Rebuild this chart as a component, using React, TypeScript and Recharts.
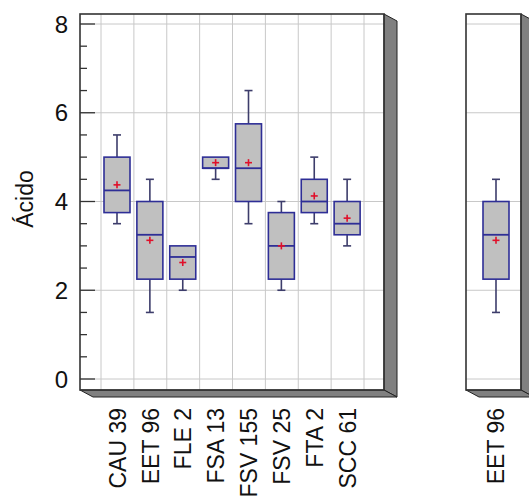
import React from 'react';
import { ComposedChart, Bar, XAxis, YAxis, CartesianGrid } from 'recharts';

const categories = ['CAU 39', 'EET 96', 'FLE 2', 'FSA 13', 'FSV 155', 'FSV 25', 'FTA 2', 'SCC 61'];
const whiskerLow = [3.5, 1.5, 2.0, 4.5, 3.5, 2.0, 3.5, 3.0];
const quartile1 = [3.75, 2.25, 2.25, 4.75, 4.0, 2.25, 3.75, 3.25];
const medians = [4.25, 3.25, 2.75, 4.75, 4.75, 3.0, 4.0, 3.5];
const quartile3 = [5.0, 4.0, 3.0, 5.0, 5.75, 3.75, 4.5, 4.0];
const whiskerHigh = [5.5, 4.5, 3.0, 5.0, 6.5, 4.0, 5.0, 4.5];
const means = [4.375, 3.125, 2.625, 4.875, 4.875, 3.0, 4.125, 3.625];

const yTicks = [0, 0.5, 1, 1.5, 2, 2.5, 3, 3.5, 4, 4.5, 5, 5.5, 6, 6.5, 7, 7.5, 8];
const yMajor = [0, 2, 4, 6, 8];
const sideCategory = 'EET 96';

const rows = categories.map((name, i) => ({
  name,
  pos: i,
  range: [whiskerLow[i], whiskerHigh[i]],
  q1: quartile1[i],
  median: medians[i],
  q3: quartile3[i],
  mean: means[i],
}));
const sideRows = rows.filter((r) => r.name === sideCategory).map((r) => ({ ...r, pos: 0 }));

const FONT = '"Liberation Sans", Arial, sans-serif';
const GRID = '#c8c8c8';
const FRAME = '#333';
const SHADOW = '#808080';
const DEPTH_X = 13;
const DEPTH_Y = 7;

// plot areas (shared with the frame overlay)
const H = 497;
const TOP = 14;
const BOTTOM = 390;
const P1 = { left: 80, right: 384 };
const P2 = { left: 466, right: 521 };
const CHART1_W = 420;
const CHART2_W = 529 - CHART1_W;

function BoxShape(props: any) {
  const { x, y, width, height, payload } = props;
  const [lo, hi] = payload.range;
  const toPx = (v: number) => y + ((hi - v) / (hi - lo)) * height;
  const cx = x + width / 2;
  const yHi = toPx(hi);
  const yLo = toPx(lo);
  const yQ3 = toPx(payload.q3);
  const yQ1 = toPx(payload.q1);
  const yMed = toPx(payload.median);
  const yMean = toPx(payload.mean);
  const whisker = '#3d3d6b';
  const box = '#2e2e96';
  return (
    <g>
      {yHi < yQ3 && (
        <>
          <line x1={cx} x2={cx} y1={yHi} y2={yQ3} stroke={whisker} strokeWidth={1.6} />
          <line x1={cx - 4} x2={cx + 4} y1={yHi} y2={yHi} stroke={whisker} strokeWidth={1.6} />
        </>
      )}
      {yLo > yQ1 && (
        <>
          <line x1={cx} x2={cx} y1={yQ1} y2={yLo} stroke={whisker} strokeWidth={1.6} />
          <line x1={cx - 4} x2={cx + 4} y1={yLo} y2={yLo} stroke={whisker} strokeWidth={1.6} />
        </>
      )}
      <rect x={x} y={yQ3} width={width} height={yQ1 - yQ3} fill="#c0c0c0" stroke={box} strokeWidth={1.6} />
      <line x1={x} x2={x + width} y1={yMed} y2={yMed} stroke={box} strokeWidth={1.8} />
      <line x1={cx - 3.5} x2={cx + 3.5} y1={yMean} y2={yMean} stroke="#e0102a" strokeWidth={1.6} />
      <line x1={cx} x2={cx} y1={yMean - 3.5} y2={yMean + 3.5} stroke="#e0102a" strokeWidth={1.6} />
    </g>
  );
}

function LeftTick(props: any) {
  const { x, y, payload, showLabel } = props;
  const major = yMajor.includes(payload.value);
  return (
    <g>
      <line x1={x} x2={x + (major ? 15 : 7)} y1={y} y2={y} stroke="#333" strokeWidth={1.3} />
      {major && showLabel && (
        <text x={x - 12} y={y} dy="0.36em" textAnchor="end" fontSize={24} fontFamily={FONT} fill="#111">
          {payload.value}
        </text>
      )}
    </g>
  );
}

function RightTick(props: any) {
  const { x, y, payload } = props;
  const major = yMajor.includes(payload.value);
  return <line x1={x} x2={x - (major ? 14 : 7)} y1={y} y2={y} stroke="#333" strokeWidth={1.3} />;
}

function CategoryTick(props: any) {
  const { x, y, payload, names } = props;
  const ty = y + 18;
  return (
    <text
      x={x}
      y={ty}
      dy="0.36em"
      textAnchor="end"
      transform={`rotate(-90, ${x}, ${ty})`}
      fontSize={23}
      fontFamily={FONT}
      fill="#111"
    >
      {names[payload.value]}
    </text>
  );
}

function Frame({ left, right }: { left: number; right: number }) {
  return (
    <g>
      <polygon
        points={`${right},${TOP} ${right + DEPTH_X},${TOP + DEPTH_Y} ${right + DEPTH_X},${BOTTOM + DEPTH_Y} ${right},${BOTTOM}`}
        fill={SHADOW}
        stroke="#222"
        strokeWidth={1}
      />
      <polygon
        points={`${left},${BOTTOM} ${right},${BOTTOM} ${right + DEPTH_X},${BOTTOM + DEPTH_Y} ${left + DEPTH_X},${BOTTOM + DEPTH_Y}`}
        fill={SHADOW}
        stroke="#222"
        strokeWidth={1}
      />
      <rect x={left} y={TOP} width={right - left} height={BOTTOM - TOP} fill="none" stroke={FRAME} strokeWidth={1.6} />
    </g>
  );
}

export default function App() {
  const boundaries = categories.map((_, i) => i - 0.5).concat(categories.length - 0.5);
  return (
    <div style={{ position: 'relative', width: 529, height: H, overflow: 'hidden' }}>
      <style>{'body{margin:0}'}</style>
      <div style={{ position: 'absolute', left: 0, top: 0 }}>
        <ComposedChart
          width={CHART1_W}
          height={H}
          data={rows}
          margin={{ top: TOP, right: CHART1_W - P1.right - 16, bottom: H - BOTTOM - 100, left: 0 }}
        >
          <CartesianGrid stroke={GRID} horizontalValues={yMajor} verticalValues={boundaries} />
          <XAxis
            dataKey="pos"
            type="number"
            domain={[-0.5, categories.length - 0.5]}
            ticks={rows.map((r) => r.pos)}
            interval={0}
            padding={{ left: 21, right: 20 }}
            height={100}
            axisLine={false}
            tickLine={false}
            tickSize={0}
            tickMargin={0}
            tick={<CategoryTick names={categories} />}
          />
          <YAxis
            domain={[0, 8]}
            ticks={yTicks}
            interval={0}
            width={80}
            padding={{ top: 10, bottom: 11 }}
            axisLine={false}
            tickLine={false}
            tickSize={0}
            tickMargin={0}
            tick={<LeftTick showLabel />}
          />
          <YAxis
            yAxisId="r"
            orientation="right"
            domain={[0, 8]}
            ticks={yTicks}
            interval={0}
            width={16}
            padding={{ top: 10, bottom: 11 }}
            axisLine={false}
            tickLine={false}
            tickSize={0}
            tickMargin={0}
            tick={<RightTick />}
          />
          <Bar dataKey="range" barSize={26} shape={<BoxShape />} isAnimationActive={false} />
        </ComposedChart>
      </div>
      <div style={{ position: 'absolute', left: CHART1_W, top: 0 }}>
        <ComposedChart
          width={CHART2_W}
          height={H}
          data={sideRows}
          margin={{ top: TOP, right: CHART1_W + CHART2_W - P2.right, bottom: H - BOTTOM - 100, left: P2.left - CHART1_W }}
        >
          <CartesianGrid stroke={GRID} horizontalValues={yMajor} vertical={false} />
          <XAxis
            dataKey="pos"
            type="number"
            domain={[-0.5, 0.5]}
            ticks={[0]}
            interval={0}
            padding={{ left: 5, right: 0 }}
            height={100}
            axisLine={false}
            tickLine={false}
            tickSize={0}
            tickMargin={0}
            tick={<CategoryTick names={[sideCategory]} />}
          />
          <YAxis domain={[0, 8]} ticks={yTicks} padding={{ top: 10, bottom: 11 }} hide width={0} />
          <Bar dataKey="range" barSize={26} shape={<BoxShape />} isAnimationActive={false} />
        </ComposedChart>
      </div>
      <svg width={529} height={H} style={{ position: 'absolute', left: 0, top: 0, pointerEvents: 'none' }}>
        <Frame left={P1.left} right={P1.right} />
        <Frame left={P2.left} right={P2.right} />
        <text
          transform="translate(33,199) rotate(-90)"
          textAnchor="middle"
          fontSize={23}
          fontFamily={FONT}
          fill="#111"
        >
          Ácido
        </text>
      </svg>
    </div>
  );
}
